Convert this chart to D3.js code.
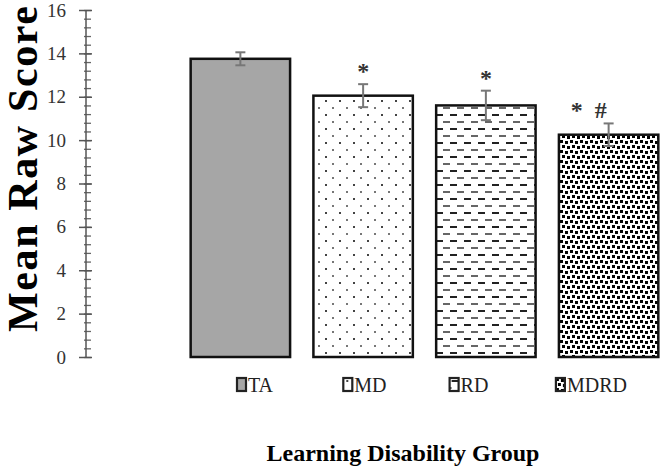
<!DOCTYPE html>
<html>
<head>
<meta charset="utf-8">
<style>
body { margin: 0; background: #fff; }
</style>
<script src="https://cdnjs.cloudflare.com/ajax/libs/d3/7.8.5/d3.min.js"></script>
</head>
<body>
<div id="chart"></div>
<script>

// values
var groups = ['TA', 'MD', 'RD', 'MDRD'];
var means = [13.75, 12.05, 11.6, 10.25];
var errors = [0.3, 0.53, 0.68, 0.52];
var marks = ['', '*', '*', '* #'];
var yTicks = [0, 2, 4, 6, 8, 10, 12, 14, 16];

var serif = '"Liberation Serif", "Times New Roman", serif';
var width = 661, height = 469;

var svg = d3.select('#chart').append('svg')
	.attr('width', width)
	.attr('height', height)
	.attr('font-family', serif);

var defs = svg.append('defs');

// fill patterns, one per group
var pMD = defs.append('pattern').attr('id', 'pat-MD')
	.attr('patternUnits', 'userSpaceOnUse').attr('width', 14).attr('height', 14);
pMD.append('rect').attr('width', 14).attr('height', 14).attr('fill', '#fff');
pMD.append('rect').attr('x', 3).attr('y', 2).attr('width', 2).attr('height', 2).attr('fill', '#444');
pMD.append('rect').attr('x', 10).attr('y', 9).attr('width', 2).attr('height', 2).attr('fill', '#777');

var pRD = defs.append('pattern').attr('id', 'pat-RD')
	.attr('patternUnits', 'userSpaceOnUse').attr('width', 14).attr('height', 14);
pRD.append('rect').attr('width', 14).attr('height', 14).attr('fill', '#fff');
pRD.append('rect').attr('x', 2).attr('y', 2).attr('width', 7).attr('height', 2).attr('fill', '#222');
pRD.append('rect').attr('x', 9).attr('y', 9).attr('width', 7).attr('height', 2).attr('fill', '#666');
pRD.append('rect').attr('x', -5).attr('y', 9).attr('width', 7).attr('height', 2).attr('fill', '#666');

var pMR = defs.append('pattern').attr('id', 'pat-MDRD')
	.attr('patternUnits', 'userSpaceOnUse').attr('width', 10).attr('height', 10);
pMR.append('rect').attr('width', 10).attr('height', 10).attr('fill', '#fff');
[[0, 0], [5, 1], [2, 5], [7, 6]].forEach(function(p) {
	pMR.append('rect').attr('x', p[0]).attr('y', p[1]).attr('width', 3).attr('height', 3).attr('fill', '#000');
});

var fills = { TA: '#a6a6a6', MD: 'url(#pat-MD)', RD: 'url(#pat-RD)', MDRD: 'url(#pat-MDRD)' };

var x = d3.scaleBand()
	.domain(groups)
	.range([179, 670])
	.paddingInner(0.19)
	.paddingOuter(0.095);

var y = d3.scaleLinear()
	.domain([0, 16])
	.range([357, 10]);

// y axis with minor ticks
svg.append('g')
	.attr('transform', 'translate(86,0)')
	.call(d3.axisLeft(y).tickValues(d3.range(0, 16.01, 0.4)).tickSize(-5).tickFormat(''))
	.call(function(g) {
		g.select('.domain').remove();
		g.selectAll('.tick line').attr('stroke', '#666').attr('stroke-width', 1.3).attr('x1', -2);
	});

svg.append('g')
	.attr('transform', 'translate(86,0)')
	.call(d3.axisLeft(y).tickValues(yTicks).tickSize(6).tickPadding(14))
	.attr('font-family', serif)
	.attr('font-size', 19)
	.call(function(g) {
		g.select('.domain').attr('stroke', '#555').attr('stroke-width', 1.5).attr('d', 'M0,' + y(0) + 'V' + y(16));
		g.selectAll('.tick line').attr('stroke', '#555').attr('stroke-width', 1.5).attr('x2', -7).attr('x1', 6);
		g.selectAll('.tick text').attr('fill', '#333').attr('font-family', serif);
	});

// bars
svg.selectAll('.bar')
	.data(groups)
	.enter().append('rect')
		.attr('class', 'bar')
		.attr('x', function(d) { return x(d); })
		.attr('y', function(d, i) { return y(means[i]); })
		.attr('width', x.bandwidth())
		.attr('height', function(d, i) { return y(0) - y(means[i]); })
		.attr('fill', function(d) { return fills[d]; })
		.attr('stroke', '#111')
		.attr('stroke-width', 2.5);

// error bars
var eb = svg.selectAll('.err')
	.data(groups)
	.enter().append('g')
		.attr('class', 'err')
		.attr('stroke', '#777')
		.attr('stroke-width', 2);
eb.append('line')
	.attr('x1', function(d) { return x(d) + x.bandwidth() / 2; })
	.attr('x2', function(d) { return x(d) + x.bandwidth() / 2; })
	.attr('y1', function(d, i) { return y(means[i] + errors[i]); })
	.attr('y2', function(d, i) { return y(means[i] - errors[i]); });
[1, -1].forEach(function(s) {
	eb.append('line')
		.attr('x1', function(d) { return x(d) + x.bandwidth() / 2 - 5; })
		.attr('x2', function(d) { return x(d) + x.bandwidth() / 2 + 5; })
		.attr('y1', function(d, i) { return y(means[i] + s * errors[i]); })
		.attr('y2', function(d, i) { return y(means[i] + s * errors[i]); });
});

// significance marks
svg.selectAll('.mark')
	.data(groups)
	.enter().append('text')
		.attr('class', 'mark')
		.attr('x', function(d) { return x(d) + x.bandwidth() / 2 + (d === 'MDRD' ? -20 : 0); })
		.attr('y', function(d, i) { return y(means[i] + errors[i]) - 5; })
		.attr('text-anchor', 'middle')
		.attr('font-size', 24)
		.attr('font-weight', 'bold')
		.attr('font-family', serif)
		.attr('fill', '#333')
		.text(function(d, i) { return marks[i].replace(' ', '\u00a0\u00a0'); });

// legend
var leg = svg.selectAll('.legend')
	.data(groups)
	.enter().append('g')
		.attr('class', 'legend')
		.attr('transform', function(d, i) { return 'translate(' + (237 + i * 106.3) + ',378)'; });
leg.append('rect')
	.attr('width', 9)
	.attr('height', 13)
	.attr('fill', function(d) { return fills[d]; })
	.attr('stroke', '#222')
	.attr('stroke-width', 2.2);
leg.append('text')
	.attr('x', 11)
	.attr('y', 14)
	.attr('font-size', 20)
	.attr('font-family', serif)
	.attr('fill', '#222')
	.text(function(d) { return d; });

// axis titles
svg.append('text')
	.attr('transform', 'translate(37,169) rotate(-90)')
	.attr('text-anchor', 'middle')
	.attr('font-size', 42)
	.attr('font-weight', 'bold')
	.attr('font-family', serif)
	.attr('textLength', 326)
	.attr('lengthAdjust', 'spacing')
	.text('Mean Raw Score');

svg.append('text')
	.attr('x', 403)
	.attr('y', 461)
	.attr('text-anchor', 'middle')
	.attr('font-size', 24)
	.attr('font-weight', 'bold')
	.attr('font-family', serif)
	.text('Learning Disability Group');

</script>
</body>
</html>
